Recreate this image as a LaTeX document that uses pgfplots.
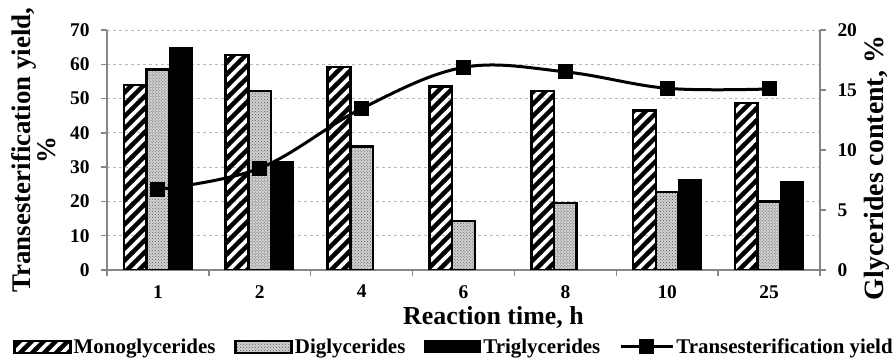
\documentclass[border=0pt]{standalone}
\usepackage{fontspec}
\setmainfont{Liberation Serif}
\usepackage{pgfplots}
\pgfplotsset{compat=1.18}
\usetikzlibrary{patterns,patterns.meta}

\definecolor{axgray}{RGB}{134,134,134}
\definecolor{gridgray}{RGB}{185,185,185}

\tikzdeclarepattern{
  name=thickhatch,
  type=uncolored,
  bottom left={(-1bp,-1bp)},
  top right={(13bp,13bp)},
  tile size={(12bp,12bp)},
  code={
    \pgfsetlinewidth{4.4bp}
    \pgfpathmoveto{\pgfpoint{-1bp}{-1bp}}\pgfpathlineto{\pgfpoint{13bp}{13bp}}
    \pgfpathmoveto{\pgfpoint{-1bp}{11bp}}\pgfpathlineto{\pgfpoint{1bp}{13bp}}
    \pgfpathmoveto{\pgfpoint{11bp}{-1bp}}\pgfpathlineto{\pgfpoint{13bp}{1bp}}
    \pgfusepath{stroke}
  }
}

\pgfplotsset{
  common/.style={
    at={(0,0)}, anchor=south west,
    scale only axis, width=713bp, height=240bp,
    xmin=0.5, xmax=7.5,
    axis line style={axgray, line width=1.5bp},
    tick style={axgray, line width=1.3bp},
    major tick length=6bp,
    tick align=outside,
    ticklabel style={font=\bfseries\fontsize{19.5}{20}\selectfont},
    /pgf/number format/assume math mode=true,
  },
  barpatch/.style={legend image code/.code={\draw[##1] (0bp,-6bp) rectangle (56bp,6bp);}},
  linepatch/.style={legend image code/.code={\draw[mark repeat=2, mark phase=2, ##1] plot coordinates {(0bp,0bp) (26bp,0bp) (52bp,0bp)};}},
}

\begin{document}
\begin{tikzpicture}
% base axis: left scale, grid, x axis
\begin{axis}[common,
  ymin=0, ymax=70, ytick={0,10,...,70},
  axis x line*=bottom, axis y line*=left,
  ymajorgrids, major grid style={gridgray, dashed, line width=0.8bp},
  xtick={0.5,1.5,...,7.5},
  x tick label as interval,
  xticklabels={1,2,4,6,8,10,25},
  xticklabel style={yshift=-8bp, inner sep=1bp},
  yticklabel style={xshift=-8bp},
  xlabel={Reaction time, h},
  every axis x label/.style={at={(axis description cs:0.542,-0.226)}, anchor=base, inner sep=0pt,
    font=\bfseries\fontsize{26}{26}\selectfont},
  ylabel={Transesterification yield,\\\%},
  every axis y label/.style={at={(axis description cs:-0.0715,0.5)}, anchor=south, rotate=90,
    align=center, inner sep=0pt, font=\bfseries\fontsize{27}{23}\selectfont},
]
\end{axis}
% bars: glycerides content, right scale
\begin{axis}[common,
  ymin=0, ymax=20, ytick={0,5,...,20},
  axis y line*=right, axis x line=none,
  yticklabel style={xshift=8bp},
  ybar=0pt, bar width=0.223,
  ylabel={Glycerides content, \%},
  every axis y label/.style={at={(axis description cs:1.0617,0.425)}, anchor=north, rotate=90,
    inner sep=0pt, font=\bfseries\fontsize{28}{28}\selectfont},
]
\addplot[draw=black, line width=2.5bp, pattern=thickhatch] coordinates
  {(1,15.4) (2,17.9) (3,16.9) (4,15.3) (5,14.9) (6,13.3) (7,13.9)};
\addplot[draw=black, line width=2.5bp, fill=black!18, postaction={pattern=crosshatch dots, pattern color=black!65}] coordinates
  {(1,16.7) (2,14.9) (3,10.3) (4,4.1) (5,5.6) (6,6.5) (7,5.7)};
\addplot[draw=black, line width=1bp, fill=black] coordinates
  {(1,18.5) (2,9.0) (6,7.5) (7,7.4)};
\end{axis}
% line: transesterification yield, left scale
\begin{axis}[common,
  ymin=0, ymax=70, hide axis,
  legend columns=4,
  legend style={draw=none, fill=none, at={(axis description cs:-0.136,-0.32)}, anchor=west,
    font=\bfseries\fontsize{21}{21}\selectfont,
    nodes={inner sep=0pt},
    /tikz/every odd column/.append style={column sep=2bp},
    /tikz/every even column/.append style={column sep=19bp}},
]
\addlegendimage{barpatch, draw=black, line width=2.5bp, pattern=thickhatch}
\addlegendentry{Monoglycerides}
\addlegendimage{barpatch, draw=black, line width=2.5bp, fill=black!18, postaction={pattern=crosshatch dots, pattern color=black!65}}
\addlegendentry{Diglycerides}
\addlegendimage{barpatch, draw=black, line width=1bp, fill=black}
\addlegendentry{Triglycerides}
\addplot[black, line width=3bp, smooth, tension=0.6, mark=square*, mark size=7bp, mark options={solid, line width=1bp}, linepatch]
  coordinates {(1,23.5) (2,29.7) (3,47.1) (4,59.1) (5,57.8) (6,53.0) (7,52.8)};
\addlegendentry{Transesterification yield}
\end{axis}
\pgfresetboundingbox
\path (-107bp,-91bp) rectangle (786bp,270bp);
\end{tikzpicture}
\end{document}
